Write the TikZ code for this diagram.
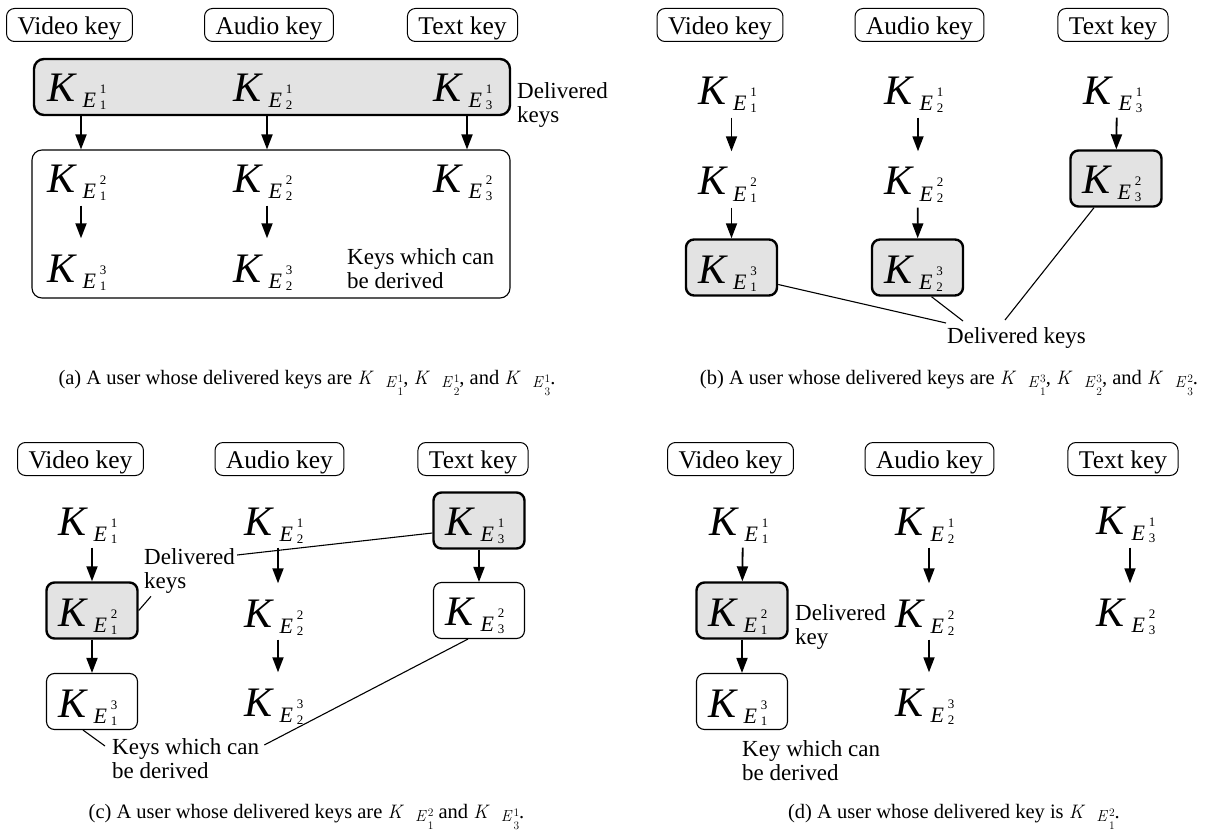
\documentclass[tikz,border=0pt]{standalone}
\usepackage{fontspec}
\setmainfont{Liberation Serif}
\usetikzlibrary{arrows.meta,calc}
\definecolor{keygray}{RGB}{227,227,227}
\newcommand{\KE}[2]{{\fontsize{42}{42}\selectfont\itshape K}\kern7pt%
\raisebox{-6pt}{\fontsize{22}{22}\selectfont\itshape E}\kern4pt%
\rlap{\raisebox{8pt}{\fontsize{13}{13}\selectfont #2}}%
\raisebox{-8pt}{\fontsize{13}{13}\selectfont #1}%
\kern8pt\rule[-8pt]{0pt}{47pt}}
\newcommand{\CK}[2]{{\fontfamily{lmr}\fontsize{19.5}{19.5}\selectfont\itshape K}\kern13pt%
\raisebox{-3pt}{\fontfamily{lmr}\fontsize{16}{16}\selectfont\itshape E}\kern2pt%
\rlap{\raisebox{2pt}{\fontfamily{lmr}\fontsize{11.5}{11.5}\selectfont #2}}%
\raisebox{-11pt}{\fontfamily{lmr}\fontsize{11.5}{11.5}\selectfont #1}}
\tikzset{
  kplain/.style={minimum width=91pt, minimum height=56pt, inner sep=0pt},
  kfill/.style={kplain, draw, line width=2.4pt, fill=keygray, rounded corners=8pt},
  kwhite/.style={kplain, draw, line width=1.1pt, rounded corners=8pt},
  hdr/.style={draw, line width=1pt, rounded corners=8pt, font=\fontsize{25.5}{25.5}\selectfont,
    inner xsep=11pt, inner ysep=0pt, minimum height=33pt, text height=21pt, text depth=2pt},
  lbl/.style={font=\fontsize{23}{24}\selectfont, align=left, inner sep=0pt, anchor=north west},
  capt/.style={font=\fontsize{20.5}{24}\selectfont, inner sep=0pt, anchor=base},
  arr/.style={line width=1.8pt, -{Triangle[length=15pt,width=11pt]}},
  lead/.style={line width=1.1pt}
}
\begin{document}
\begin{tikzpicture}[x=1pt,y=-1pt]
\useasboundingbox (0,0) rectangle (1219,832);
% ---------------- panel (a)
\node[hdr] (ha1) at (69.5,25) {Video key};
\node[hdr] (ha2) at (269,25) {Audio key};
\node[hdr] (ha3) at (462.5,25) {Text key};
\node[draw, line width=2.4pt, fill=keygray, rounded corners=10pt, minimum width=476pt, minimum height=56pt] (dbox) at (272,87) {};
\node[draw, line width=1.1pt, rounded corners=10pt, minimum width=478pt, minimum height=148pt] (rbox) at (271,224) {};
\node[kplain] (a11) at (81,86.5) {\KE{1}{1}};
\node[kplain] (a21) at (267,86.5) {\KE{2}{1}};
\node[kplain] (a31) at (467,86.5) {\KE{3}{1}};
\node[kplain] (a12) at (81,177.5) {\KE{1}{2}};
\node[kplain] (a22) at (267,177.5) {\KE{2}{2}};
\node[kplain] (a32) at (467,177.5) {\KE{3}{2}};
\node[kplain] (a13) at (81,266.5) {\KE{1}{3}};
\node[kplain] (a23) at (267,266.5) {\KE{2}{3}};
\draw[arr] (a11 |- dbox.south) -- (a12 |- rbox.north);
\draw[arr] (a21 |- dbox.south) -- (a22 |- rbox.north);
\draw[arr] (a31 |- dbox.south) -- (a32 |- rbox.north);
\draw[arr] (a12) -- (a13);
\draw[arr] (a22) -- (a23);
\node[lbl] (adel) at (517,82) {Delivered\\keys};
\node[lbl] (ader) at (347,248) {Keys which can\\be derived};
\node[capt] (capa) at (307,384) {(a) A user whose delivered keys are \CK{1}{1}, \CK{2}{1}, and \CK{3}{1}.};
% ---------------- panel (b)
\node[hdr] (hb1) at (720,25) {Video key};
\node[hdr] (hb2) at (919.5,25) {Audio key};
\node[hdr] (hb3) at (1113,25) {Text key};
\node[kplain] (b11) at (731.5,89.5) {\KE{1}{1}};
\node[kplain] (b12) at (731.5,179.5) {\KE{1}{2}};
\node[kfill] (b13) at (731.5,267.5) {\KE{1}{3}};
\node[kplain] (b21) at (918,89.5) {\KE{2}{1}};
\node[kplain] (b22) at (918,179.5) {\KE{2}{2}};
\node[kfill] (b23) at (917.5,267.5) {\KE{2}{3}};
\node[kplain] (b31) at (1117,89.5) {\KE{3}{1}};
\node[kfill] (b32) at (1116,178.5) {\KE{3}{2}};
\draw[arr] (b11) -- (b12);
\draw[arr] (b12) -- (b13);
\draw[arr] (b21) -- (b22);
\draw[arr] (b22) -- (b23);
\draw[arr] (b31) -- (b32);
\node[lbl] (bdel) at (947,327) {Delivered keys};
\draw[lead] (b13.-20) -- ($(bdel.north west)+(-1,-4)$);
\draw[lead] ($(b23.south)+(14,0)$) -- ($(bdel.north west)+(16,-6)$);
\draw[lead] ($(b32.south)+(-22,0)$) -- ($(bdel.north west)+(58,-7)$);
\node[capt] (capb) at (949,384) {(b) A user whose delivered keys are \CK{1}{3}, \CK{2}{3}, and \CK{3}{2}.};
% ---------------- panel (c)
\node[hdr] (hc1) at (80.5,459) {Video key};
\node[hdr] (hc2) at (279.5,459) {Audio key};
\node[hdr] (hc3) at (473,459) {Text key};
\node[kplain] (c11) at (92,519.5) {\KE{1}{1}};
\node[kfill] (c12) at (92,610.5) {\KE{1}{2}};
\node[kwhite] (c13) at (92,701.5) {\KE{1}{3}};
\node[kplain] (c21) at (278,519.5) {\KE{2}{1}};
\node[kplain] (c22) at (278,611.5) {\KE{2}{2}};
\node[kplain] (c23) at (278,700.5) {\KE{2}{3}};
\node[kfill] (c31) at (479,520.5) {\KE{3}{1}};
\node[kwhite] (c32) at (479,610.5) {\KE{3}{2}};
\draw[arr] (c11) -- (c12);
\draw[arr] (c12) -- (c13);
\draw[arr] (c21) -- (c22);
\draw[arr] (c22) -- (c23);
\draw[arr] (c31) -- (c32);
\node[lbl] (cdel) at (144,548) {Delivered\\keys};
\node[lbl] (cder) at (112,738) {Keys which can\\be derived};
\draw[lead] ($(cdel.north east)+(2,7)$) -- (c31.-165);
\draw[lead] ($(cdel.south west)+(7,3)$) -- (c12.east);
\draw[lead] ($(c13.south)+(-9,0)$) -- ($(cder.north west)+(-7,8)$);
\draw[lead] ($(cder.north east)+(5,7)$) -- ($(c32.south)+(-11,0)$);
\node[capt] (capc) at (306.5,818) {(c) A user whose delivered keys are \CK{1}{2} and \CK{3}{1}.};
% ---------------- panel (d)
\node[hdr] (hd1) at (730.5,459) {Video key};
\node[hdr] (hd2) at (929.5,459) {Audio key};
\node[hdr] (hd3) at (1123,459) {Text key};
\node[kplain] (d11) at (743,519.5) {\KE{1}{1}};
\node[kfill] (d12) at (742,610.5) {\KE{1}{2}};
\node[kwhite] (d13) at (742,701.5) {\KE{1}{3}};
\node[kplain] (d21) at (929,519.5) {\KE{2}{1}};
\node[kplain] (d22) at (929,611.5) {\KE{2}{2}};
\node[kplain] (d23) at (929,700.5) {\KE{2}{3}};
\node[kplain] (d31) at (1130,519.5) {\KE{3}{1}};
\node[kplain] (d32) at (1130,611.5) {\KE{3}{2}};
\draw[arr] (d11) -- (d12);
\draw[arr] (d12) -- (d13);
\draw[arr] (d21) -- (d22);
\draw[arr] (d22) -- (d23);
\draw[arr] (d31) -- (d32);
\node[lbl] (ddel) at (795,604) {Delivered\\key};
\node[lbl] (dder) at (742,740) {Key which can\\be derived};
\node[capt] (capd) at (954,818) {(d) A user whose delivered key is \CK{1}{2}.};
\end{tikzpicture}
\end{document}
